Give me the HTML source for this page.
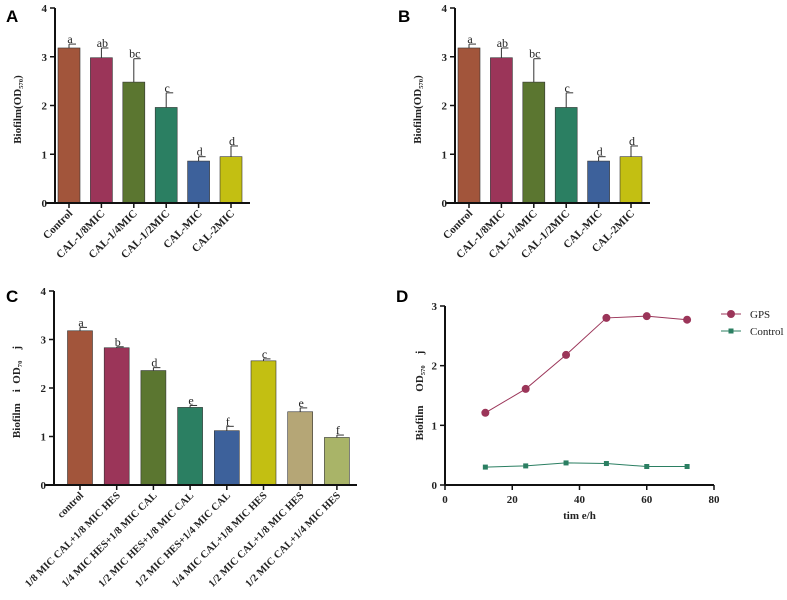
<!DOCTYPE html>
<html><head><meta charset="utf-8">
<style>
html,body{margin:0;padding:0;background:#fff;}
svg{display:block;font-family:"Liberation Serif",serif;}
svg text{white-space:pre;}
.pl{font-family:"Liberation Sans",sans-serif;font-weight:bold;font-size:17px;}
</style></head>
<body>
<svg id="fig" width="787" height="600" viewBox="0 0 787 600" xmlns="http://www.w3.org/2000/svg" xml:space="preserve"></svg>
<script>
const catsA = ["Control","CAL-1/8MIC","CAL-1/4MIC","CAL-1/2MIC","CAL-MIC","CAL-2MIC"];
const valsA = [3.18,2.98,2.48,1.96,0.86,0.95];
const errA = [0.08,0.2,0.48,0.3,0.09,0.22];
const letA = ["a","ab","bc","c","d","d"];
const colA = ["#a2553b","#9b3559","#5b7630","#2b7f62","#3d619b","#c3bf12"];
const catsC = ["control","1/8 MIC CAL+1/8 MIC HES","1/4 MIC HES+1/8 MIC CAL","1/2 MIC HES+1/8 MIC CAL","1/2 MIC HES+1/4 MIC CAL","1/4 MIC CAL+1/8 MIC HES","1/2 MIC CAL+1/8 MIC HES","1/2 MIC CAL+1/4 MIC HES"];
const valsC = [3.18,2.83,2.36,1.6,1.12,2.56,1.51,0.98];
const errC = [0.07,0.02,0.06,0.04,0.09,0.04,0.08,0.05];
const letC = ["a","b","d","e","f","c","e","f"];
const colC = ["#a2553b","#9b3559","#5b7630","#2b7f62","#3d619b","#c3bf12","#b5a676","#a9b468"];
const timeD = [12,24,36,48,60,72];
const gpsD = [1.21,1.61,2.18,2.80,2.83,2.77];
const ctrlD = [0.30,0.32,0.37,0.36,0.31,0.31];
const yTicksBar = [0,1,2,3,4];
const yTicksD = [0,1,2,3];
const xTicksD = [0,20,40,60,80];

const svg = document.getElementById('fig');
const NS = "http://www.w3.org/2000/svg";
function mk(tag, attrs, parent, text){
  const e = document.createElementNS(NS, tag);
  for (const k in attrs) e.setAttribute(k, attrs[k]);
  if (text !== undefined) e.textContent = text;
  (parent||svg).appendChild(e);
  return e;
}

function barPanel(id, label, lx, ly, ax, y0, y4, x0, xEnd, barStart, step, bw, cats, vals, errs, lets, cols, ylabel, fs){
  const g = mk('g', {});
  
  
  const pl = mk('text', {x:lx, y:ly, class:'pl'}, g, label);
  
  
  const ys = v => y0 - v*(y0-y4)/4;
  cats.forEach((c,i)=>{
    const cx = barStart + i*step;
    const top = ys(vals[i]);
    const r = mk('rect', {x:cx-bw/2, y:top, width:bw, height:y0-top, fill:cols[i], stroke:'#333', 'stroke-width':0.6}, g);
    
    
    const et = ys(vals[i]+errs[i]);
    mk('line', {x1:cx, x2:cx, y1:top, y2:et, stroke:'#333', 'stroke-width':1}, g);
    mk('line', {x1:cx, x2:cx+7, y1:et, y2:et, stroke:'#333', 'stroke-width':1}, g);
    const lt = mk('text', {x:cx+1, y:et-1, 'font-size':12, 'text-anchor':'middle', fill:'#222'}, g, lets[i]);
    
    
    mk('line', {x1:cx, x2:cx, y1:y0, y2:y0+5, stroke:'#111', 'stroke-width':1.5}, g);
    const tl = mk('text', {x:0, y:0, 'font-size':fs, 'font-weight':'bold', 'text-anchor':'end', fill:'#222',
      transform:`translate(${cx+4},${y0+11}) rotate(-45)`}, g, c);
    
    
  });
  const ya = mk('line', {x1:ax, x2:ax, y1:y4, y2:y0, stroke:'#111', 'stroke-width':2}, g);
  
  
  const xa = mk('line', {x1:x0, x2:xEnd, y1:y0, y2:y0, stroke:'#111', 'stroke-width':2}, g);
  
  
  yTicksBar.forEach(t=>{
    const y = ys(t);
    mk('line', {x1:ax-5, x2:ax, y1:y, y2:y, stroke:'#111', 'stroke-width':1.5}, g);
    const tt = mk('text', {x:ax-8, y:y+4, 'font-size':11, 'font-weight':'bold', 'text-anchor':'end', fill:'#222'}, g, t);
    
    
  });
  const yl = mk('text', {x:0, y:0, 'font-size':11, 'font-weight':'bold', 'text-anchor':'middle', fill:'#222',
    transform:`translate(${ax-34},${(y0+y4)/2+4}) rotate(-90)`}, g, ylabel);
  
  
}

barPanel('a','A',6,22,55,203,8,46,250,69,32.4,22,catsA,valsA,errA,letA,colA,'Biofilm(OD\u2085\u2087\u2080)',11);
barPanel('b','B',398,22,455,203,8,446,650,469,32.4,22,catsA,valsA,errA,letA,colA,'Biofilm(OD\u2085\u2087\u2080)',11);
barPanel('c','C',6,302,54,485,291,45,357,80,36.7,25,catsC,valsC,errC,letC,colC,'Biofilm    i  OD\u2087\u2080    j',10.5);

(function(){
  const g = mk('g', {});
  
  
  const pl = mk('text', {x:396, y:302, class:'pl'}, g, 'D');
  
  
  const X0=445, X80=714, Y0=485, Y3=306;
  const xs = v => X0 + v*(X80-X0)/80;
  const ys = v => Y0 - v*(Y0-Y3)/3;
  const ya = mk('line', {x1:X0, x2:X0, y1:Y3, y2:Y0, stroke:'#111', 'stroke-width':2}, g);
  
  
  const xa = mk('line', {x1:X0, x2:X80, y1:Y0, y2:Y0, stroke:'#111', 'stroke-width':2}, g);
  
  
  yTicksD.forEach(t=>{
    const y = ys(t);
    mk('line', {x1:X0-5, x2:X0, y1:y, y2:y, stroke:'#111', 'stroke-width':1.5}, g);
    const tt = mk('text', {x:X0-8, y:y+4, 'font-size':11, 'font-weight':'bold', 'text-anchor':'end', fill:'#222'}, g, t);
    
    
  });
  xTicksD.forEach(t=>{
    const x = xs(t);
    mk('line', {x1:x, x2:x, y1:Y0, y2:Y0+5, stroke:'#111', 'stroke-width':1.5}, g);
    const tt = mk('text', {x:x, y:Y0+18, 'font-size':11, 'font-weight':'bold', 'text-anchor':'middle', fill:'#222'}, g, t);
    
    
  });
  const xl = mk('text', {x:(X0+X80)/2, y:Y0+34, 'font-size':11, 'font-weight':'bold', 'text-anchor':'middle', fill:'#222'}, g, 'tim e/h');
  
  
  const yl = mk('text', {x:0, y:0, 'font-size':11, 'font-weight':'bold', 'text-anchor':'middle', fill:'#222',
    transform:`translate(${X0-22},${(Y0+Y3)/2}) rotate(-90)`}, g, 'Biofilm     OD\u2085\u2087\u2080    j');
  
  

  const gp = timeD.map((t,i)=>xs(t)+','+ys(gpsD[i])).join(' ');
  const l1 = mk('polyline', {points:gp, fill:'none', stroke:'#9b3559', 'stroke-width':1}, g);
  
  
  timeD.forEach((t,i)=>{
    const c = mk('circle', {cx:xs(t), cy:ys(gpsD[i]), r:4, fill:'#9b3559'}, g);
    
    
  });
  const cp = timeD.map((t,i)=>xs(t)+','+ys(ctrlD[i])).join(' ');
  const l2 = mk('polyline', {points:cp, fill:'none', stroke:'#2b7f62', 'stroke-width':1}, g);
  
  
  timeD.forEach((t,i)=>{
    const r = mk('rect', {x:xs(t)-2.5, y:ys(ctrlD[i])-2.5, width:5, height:5, fill:'#2b7f62'}, g);
    
    
  });
  const lg = mk('g', {}, g);
  
  
  mk('line', {x1:721, x2:741, y1:314, y2:314, stroke:'#9b3559', 'stroke-width':1}, lg);
  mk('circle', {cx:731, cy:314, r:4, fill:'#9b3559'}, lg);
  const e1 = mk('text', {x:750, y:318, 'font-size':11, fill:'#222'}, lg, 'GPS');
  
  
  mk('line', {x1:721, x2:741, y1:331, y2:331, stroke:'#2b7f62', 'stroke-width':1}, lg);
  mk('rect', {x:728.5, y:328.5, width:5, height:5, fill:'#2b7f62'}, lg);
  const e2 = mk('text', {x:750, y:335, 'font-size':11, fill:'#222'}, lg, 'Control');
  
  
})();
</script>
</body></html>
